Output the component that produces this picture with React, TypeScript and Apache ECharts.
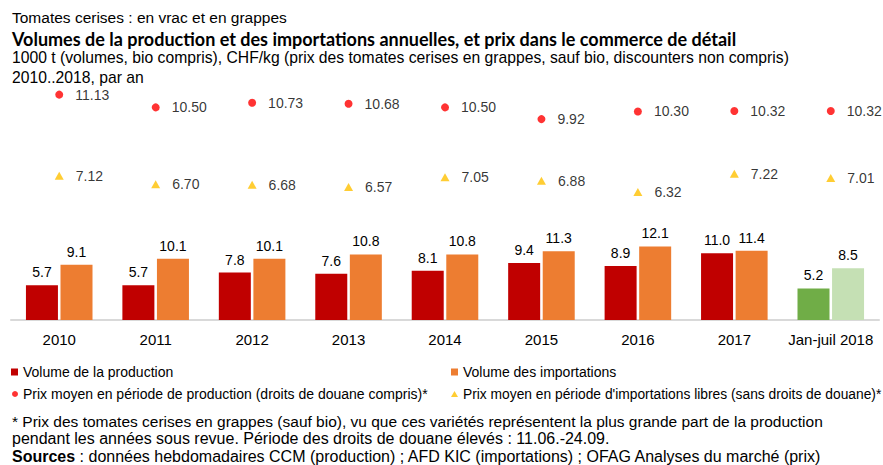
import React, { useEffect, useRef } from "react";
import * as echarts from "echarts";

const categories = ["2010", "2011", "2012", "2013", "2014", "2015", "2016", "2017", "Jan-juil 2018"];
const productionVolume = [5.7, 5.7, 7.8, 7.6, 8.1, 9.4, 8.9, 11.0, 5.2];
const importVolume = [9.1, 10.1, 10.1, 10.8, 10.8, 11.3, 12.1, 11.4, 8.5];
const priceProduction = [11.13, 10.5, 10.73, 10.68, 10.5, 9.92, 10.3, 10.32, 10.32];
const priceFreeImport = [7.12, 6.7, 6.68, 6.57, 7.05, 6.88, 6.32, 7.22, 7.01];

const seriesNames = [
  "Volume de la production",
  "Volume des importations",
  "Prix moyen en période de production (droits de douane compris)*",
  "Prix moyen en période d'importations libres (sans droits de douane)*",
];

const FONT = "'Liberation Sans', Arial, sans-serif";

export default function App() {
  const ref = useRef<HTMLDivElement>(null);

  useEffect(() => {
    if (!ref.current) return;
    const chart = echarts.init(ref.current, null, { renderer: "svg" });
    const last = categories.length - 1;

    const legendBase = {
      padding: 0,
      selectedMode: false,
      textStyle: { fontSize: 14, fontFamily: FONT, color: "#000" },
    };

    const option: any = {
      animation: false,
      grid: { left: 11, right: 4, top: 77, bottom: 145, containLabel: false },
      xAxis: {
        type: "category",
        data: categories,
        axisTick: { show: false },
        axisLine: { lineStyle: { color: "#D9D9D9", width: 2 } },
        axisLabel: { interval: 0, fontSize: 15, fontFamily: FONT, color: "#000", margin: 12 },
      },
      yAxis: [
        { type: "value", min: 0, max: 40, show: false },
        { type: "value", min: 0, max: 12, show: false },
      ],
      legend: [
        { ...legendBase, data: [seriesNames[0]], left: 11, top: 365, icon: "rect", itemWidth: 7, itemHeight: 7 },
        { ...legendBase, data: [seriesNames[1]], left: 451, top: 365, icon: "rect", itemWidth: 7, itemHeight: 7 },
        { ...legendBase, data: [seriesNames[2]], left: 12, top: 387, icon: "circle", itemWidth: 6, itemHeight: 6 },
        {
          ...legendBase,
          data: [seriesNames[3]],
          left: 451,
          top: 387,
          icon: "triangle",
          itemWidth: 7,
          itemHeight: 6,
          textStyle: { fontSize: 13.8, fontFamily: FONT, color: "#000" },
        },
      ],
      series: [
        {
          name: seriesNames[0],
          type: "bar",
          yAxisIndex: 0,
          barWidth: 32,
          barGap: "8%",
          itemStyle: { color: "#C00000" },
          data: productionVolume.map((v, i) =>
            i === last ? { value: v, itemStyle: { color: "#70AD47" } } : v
          ),
          label: {
            show: true,
            position: "top",
            distance: 6,
            fontSize: 14,
            fontFamily: FONT,
            color: "#000",
            formatter: (p: any) => Number(p.value).toFixed(1),
          },
        },
        {
          name: seriesNames[1],
          type: "bar",
          yAxisIndex: 0,
          barWidth: 32,
          barGap: "8%",
          itemStyle: { color: "#ED7D31" },
          data: importVolume.map((v, i) =>
            i === last ? { value: v, itemStyle: { color: "#C5E0B4" } } : v
          ),
          label: {
            show: true,
            position: "top",
            distance: 6,
            fontSize: 14,
            fontFamily: FONT,
            color: "#000",
            formatter: (p: any) => Number(p.value).toFixed(1),
          },
        },
        {
          name: seriesNames[2],
          type: "scatter",
          yAxisIndex: 1,
          symbol: "circle",
          symbolSize: 8,
          itemStyle: { color: "#FF0000" },
          data: priceProduction,
          label: {
            show: true,
            position: "right",
            distance: 12,
            fontSize: 14,
            fontFamily: FONT,
            color: "#000",
            formatter: (p: any) => Number(p.value).toFixed(2),
          },
        },
        {
          name: seriesNames[3],
          type: "scatter",
          yAxisIndex: 1,
          symbol: "triangle",
          symbolSize: [9, 8],
          itemStyle: { color: "#FFC000" },
          data: priceFreeImport,
          label: {
            show: true,
            position: "right",
            distance: 12,
            fontSize: 14,
            fontFamily: FONT,
            color: "#000",
            formatter: (p: any) => Number(p.value).toFixed(2),
          },
        },
      ],
      graphic: [
        {
          type: "text",
          x: 12,
          y: 17,
          style: { text: "Tomates cerises : en vrac et en grappes", fontSize: 15.5, fontFamily: FONT, fill: "#000", verticalAlign: "middle" },
        },
        {
          type: "text",
          x: 12,
          y: 39,
          style: {
            text: "Volumes de la production et des importations annuelles, et prix dans le commerce de détail",
            fontSize: 18,
            fontWeight: "bold",
            fontFamily: "Lato, 'Open Sans', sans-serif",
            fill: "#000",
            verticalAlign: "middle",
          },
        },
        {
          type: "text",
          x: 12,
          y: 57.5,
          style: {
            text: "1000 t (volumes, bio compris), CHF/kg (prix des tomates cerises en grappes, sauf bio, discounters non compris)",
            fontSize: 15.7,
            fontFamily: FONT,
            fill: "#000",
            verticalAlign: "middle",
          },
        },
        {
          type: "text",
          x: 12,
          y: 77,
          style: { text: "2010..2018, par an", fontSize: 15.7, fontFamily: FONT, fill: "#000", verticalAlign: "middle" },
        },
        {
          type: "text",
          x: 12,
          y: 421,
          style: {
            text: "* Prix des tomates cerises en grappes (sauf bio), vu que ces variétés représentent la plus grande part de la production",
            fontSize: 15.5,
            fontFamily: FONT,
            fill: "#000",
            verticalAlign: "middle",
          },
        },
        {
          type: "text",
          x: 12,
          y: 438.5,
          style: {
            text: "pendant les années sous revue. Période des droits de douane élevés : 11.06.-24.09.",
            fontSize: 16,
            fontFamily: FONT,
            fill: "#000",
            verticalAlign: "middle",
          },
        },
        {
          type: "text",
          x: 12,
          y: 456,
          style: {
            text: "{b|Sources} : données hebdomadaires CCM (production) ; AFD KIC (importations) ; OFAG Analyses du marché (prix)",
            fontSize: 16,
            fontFamily: FONT,
            fill: "#000",
            verticalAlign: "middle",
            rich: { b: { fontSize: 16, fontFamily: FONT, fontWeight: "bold", fill: "#000" } },
          },
        },
      ],
    };

    chart.setOption(option);
    return () => chart.dispose();
  }, []);

  return (
    <div
      ref={ref}
      style={{ position: "fixed", left: 0, top: 0, width: 883, height: 465, background: "#fff" }}
    />
  );
}
